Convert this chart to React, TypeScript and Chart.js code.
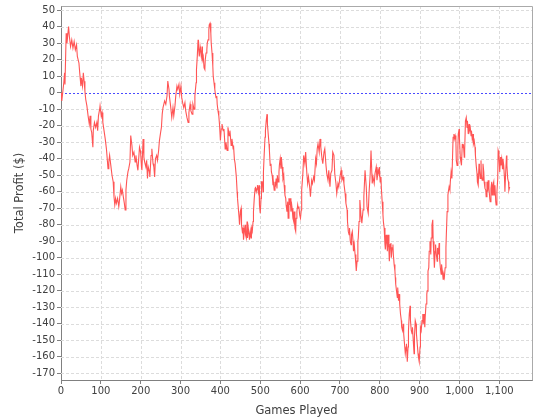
import React, { useEffect, useRef } from 'react';
import { Chart, registerables } from 'chart.js';

Chart.register(...registerables);

const xAxisTitle = 'Games Played';
const yAxisTitle = 'Total Profit ($)';

const xTickValues = [0, 100, 200, 300, 400, 500, 600, 700, 800, 900, 1000, 1100];
const yTickValues = [50, 40, 30, 20, 10, 0, -10, -20, -30, -40, -50, -60, -70, -80, -90, -100, -110, -120, -130, -140, -150, -160, -170];

const games = [
  0, 2, 7, 9, 10, 13, 15, 19, 21, 24, 27, 30, 33, 36, 39, 41, 45, 47, 50, 51, 54, 56, 58, 60, 62, 65, 68, 71, 73, 75, 77, 80, 81, 84, 87, 90, 92, 94, 97, 98,
  101, 103, 105, 108, 111, 114, 116, 118, 120, 122, 125, 128, 131, 133, 135, 137, 139, 142, 145, 146, 150, 152, 154, 157, 159, 161, 163, 165, 168, 170, 173, 175, 178, 180, 183, 186, 188, 191, 193, 197, 199,
  200, 202, 203, 206, 208, 210, 213, 215, 217, 219, 222, 223, 226, 228, 231, 233, 235, 237, 240, 242, 245, 247, 250, 252, 254, 256, 260, 263, 266, 268, 271, 272, 275, 278, 281, 283, 286, 288, 291, 293, 296, 298,
  301, 303, 306, 308, 311, 313, 316, 319, 321, 324, 326, 329, 331, 334, 336, 339, 340, 342, 344, 345, 347, 349, 350, 352, 354, 355, 357, 359, 361, 362, 364, 366, 367, 369, 371, 372, 374, 376, 377, 379, 381, 382, 384, 386, 387, 389, 391, 392, 394, 396, 398,
  400, 402, 404, 407, 409, 412, 414, 417, 419, 422, 424, 427, 429, 432, 433, 435, 437, 440, 442, 443, 445, 447, 448, 450, 452, 453, 455, 457, 458, 460, 462, 463, 465, 467, 468, 470, 472, 473, 475, 477, 478, 480, 482, 483, 485, 487, 488, 490, 492, 493, 495, 497, 498,
  500, 502, 503, 505, 507, 508, 510, 512, 513, 515, 517, 518, 520, 522, 523, 525, 527, 528, 530, 532, 533, 535, 537, 538, 540, 542, 543, 545, 547, 548, 550, 552, 553, 555, 557, 559, 560, 562, 564, 565, 567, 569, 570, 572, 574, 575, 577, 579, 580, 582, 584, 585, 587, 589, 590, 592, 594, 595, 597, 599,
  601, 603, 604, 607, 609, 612, 614, 617, 619, 621, 624, 626, 629, 631, 634, 636, 639, 641, 643, 645, 648, 650, 652, 655, 657, 660, 662, 665, 667, 670, 672, 675, 677, 680, 682, 685, 687, 690, 692, 695, 697,
  700, 703, 705, 708, 710, 713, 715, 718, 719, 721, 723, 724, 726, 728, 729, 731, 733, 734, 736, 738, 740, 741, 743, 745, 746, 748, 750, 753, 755, 758, 760, 763, 766, 768, 771, 773, 776, 778, 781, 783, 786, 788, 791, 793, 796, 798, 799,
  801, 803, 804, 806, 808, 809, 811, 813, 814, 816, 818, 819, 821, 823, 824, 826, 828, 829, 831, 833, 834, 836, 838, 839, 840, 842, 844, 845, 847, 849, 850, 852, 854, 855, 857, 859, 860, 862, 864, 866, 867, 869, 871, 872, 874, 876, 877, 879, 881, 882, 884, 886, 887, 889, 891, 892, 894, 896, 897, 899,
  901, 902, 904, 906, 908, 909, 911, 913, 914, 916, 918, 919, 921, 923, 924, 926, 928, 929, 931, 933, 934, 936, 937, 939, 940, 942, 944, 945, 947, 949, 950, 952, 954, 955, 957, 959, 960, 962, 964, 966, 967, 969, 971, 972, 974, 976, 977, 979, 981, 982, 984, 986, 987, 989, 991, 992, 994, 996, 997, 999,
  1000, 1002, 1003, 1005, 1007, 1008, 1010, 1012, 1013, 1015, 1017, 1019, 1020, 1022, 1024, 1025, 1027, 1029, 1030, 1032, 1034, 1035, 1037, 1039, 1040, 1042, 1044, 1045, 1047, 1049, 1050, 1052, 1054, 1055, 1057, 1059, 1061, 1062, 1064, 1066, 1067, 1069, 1071, 1072, 1074, 1076, 1077, 1079, 1081, 1082, 1084, 1086, 1087, 1089, 1091, 1092, 1094, 1096, 1097, 1099,
  1101, 1103, 1104, 1106, 1108, 1109, 1111, 1113, 1114, 1116, 1118, 1119, 1121, 1123, 1124, 1126,
];

const profit = [
  0, -5, 6, 12, 5, 36, 30, 40, 34, 28, 32, 27, 31, 26, 29, 22, 18, 12, 4, 9, 4, 12, 7, 1, -4, -8, -14, -19, -14, -22, -24, -33, -23, -18, -21, -18, -23, -14, -10, -8,
  -14, -12, -18, -23, -28, -34, -40, -46, -42, -38, -44, -50, -54, -63, -68, -64, -67, -64, -69, -67, -57, -61, -59, -64, -67, -71, -59, -53, -48, -46, -42, -26, -32, -38, -36, -42, -38, -44, -47, -33, -35,
  -37, -45, -47, -28, -39, -42, -45, -41, -52, -45, -48, -51, -38, -34, -43, -45, -51, -40, -38, -41, -35, -29, -24, -21, -13, -9, -5, -7, -2, 7, 2, -2, -8, -15, -9, -14, -8, -2, 4, 2, 5, -1,
  4, -3, -7, -9, -6, -11, -15, -18, -12, -7, -11, -13, -7, -10, -2, 6, 14, 22, 32, 28, 22, 28, 26, 22, 28, 20, 22, 15, 14, 20, 24, 26, 30, 32, 38, 41, 42, 36, 30, 24, 16, 10, 6, 2, 0, -3, -2, -7, -11, -14, -20,
  -29, -22, -19, -23, -22, -34, -30, -35, -21, -26, -23, -32, -28, -34, -32, -40, -43, -51, -60, -64, -70, -76, -80, -72, -70, -80, -84, -82, -89, -84, -80, -86, -88, -78, -88, -82, -86, -89, -84, -88, -82, -84, -78, -72, -64, -58, -57, -60, -58, -56, -60, -56, -68,
  -73, -64, -54, -54, -60, -48, -37, -27, -23, -17, -13, -19, -25, -31, -35, -44, -43, -48, -50, -56, -54, -59, -54, -57, -52, -58, -50, -54, -48, -44, -40, -46, -39, -45, -52, -50, -56, -62, -64, -68, -72, -66, -76, -64, -68, -64, -72, -68, -70, -76, -78, -72, -82, -84, -76, -72, -68, -70, -69, -74,
  -76, -71, -59, -49, -38, -43, -36, -49, -55, -51, -57, -63, -53, -55, -51, -53, -40, -43, -34, -31, -36, -28, -33, -40, -43, -36, -34, -44, -49, -53, -47, -57, -49, -47, -36, -38, -49, -55, -61, -55, -57,
  -51, -47, -53, -51, -55, -61, -67, -71, -78, -84, -86, -82, -90, -92, -86, -84, -90, -96, -92, -98, -104, -108, -102, -90, -88, -78, -65, -75, -79, -71, -63, -47, -57, -69, -73, -61, -49, -35, -55, -51, -55, -49, -45, -53, -47, -49, -45,
  -54, -51, -58, -66, -74, -78, -82, -92, -95, -86, -92, -96, -86, -96, -102, -92, -91, -100, -94, -92, -98, -104, -108, -112, -116, -120, -124, -118, -126, -122, -128, -134, -138, -142, -144, -140, -146, -152, -158, -154, -152, -163, -154, -144, -134, -129, -138, -144, -146, -142, -150, -158, -148, -138, -140, -146, -152, -158, -160, -163,
  -154, -142, -144, -138, -134, -140, -134, -142, -136, -128, -122, -120, -108, -106, -96, -90, -98, -88, -80, -77, -90, -100, -106, -96, -92, -98, -102, -94, -98, -91, -100, -106, -110, -104, -108, -113, -110, -112, -106, -94, -86, -72, -62, -60, -57, -59, -54, -48, -52, -44, -27, -25, -28, -26, -29, -41, -44, -33, -25, -22,
  -28, -39, -41, -44, -31, -33, -32, -39, -35, -17, -15, -21, -17, -25, -19, -23, -21, -26, -23, -28, -25, -31, -29, -33, -38, -44, -49, -54, -56, -43, -46, -52, -41, -50, -53, -43, -48, -54, -58, -59, -63, -54, -60, -53, -58, -64, -66, -58, -54, -62, -56, -54, -62, -56, -66, -68, -60, -52, -35, -37,
  -48, -39, -44, -40, -46, -40, -44, -52, -60, -48, -38, -44, -52, -54, -59, -57,
];

const X_MIN = 0;
const X_MAX = 1182;
const Y_MIN = -174;
const Y_MAX = 52.5;

export default function App() {
  const canvasRef = useRef<HTMLCanvasElement | null>(null);

  useEffect(() => {
    document.body.style.margin = '0';
    const canvas = canvasRef.current;
    if (!canvas) return;

    const plotDecor = {
      id: 'plotDecor',
      beforeDatasetsDraw(chart: any) {
        const { ctx, chartArea: a, scales } = chart;
        const x = scales.x;
        const y = scales.y;
        ctx.save();
        ctx.lineWidth = 1;
        ctx.setLineDash([3, 2]);
        ctx.strokeStyle = '#dcdcdc';
        ctx.beginPath();
        for (const v of xTickValues) {
          if (v === 0) continue;
          const px = Math.round(x.getPixelForValue(v)) + 0.5;
          ctx.moveTo(px, a.top);
          ctx.lineTo(px, a.bottom);
        }
        for (const v of yTickValues) {
          if (v === 0) continue;
          const py = Math.round(y.getPixelForValue(v)) + 0.5;
          ctx.moveTo(a.left, py);
          ctx.lineTo(a.right, py);
        }
        ctx.stroke();
        ctx.setLineDash([2, 2]);
        ctx.strokeStyle = '#4a4aff';
        ctx.beginPath();
        const pz = Math.round(y.getPixelForValue(0)) + 0.5;
        ctx.moveTo(a.left, pz);
        ctx.lineTo(a.right, pz);
        ctx.stroke();
        ctx.restore();
      },
      afterDraw(chart: any) {
        const { ctx, chartArea: a } = chart;
        ctx.save();
        ctx.lineWidth = 1;
        ctx.strokeStyle = '#aaaaaa';
        ctx.beginPath();
        const l = Math.round(a.left) + 0.5;
        const t = Math.round(a.top) + 0.5;
        const r = Math.round(a.right) + 0.5;
        const b = Math.round(a.bottom) + 0.5;
        ctx.moveTo(l, t);
        ctx.lineTo(r, t);
        ctx.lineTo(r, b);
        ctx.stroke();
        ctx.restore();
      },
    };

    const chart = new Chart(canvas, {
      type: 'line',
      data: {
        datasets: [
          {
            data: games.map((g, i) => ({ x: g, y: profit[i] })),
            borderColor: '#ff5555',
            borderWidth: 1.1,
            pointRadius: 0,
            tension: 0,
            fill: false,
          },
        ],
      },
      options: {
        animation: false,
        responsive: false,
        devicePixelRatio: 1,
        layout: { padding: { left: 0, right: 8, top: 6, bottom: 0 } },
        plugins: { legend: { display: false }, tooltip: { enabled: false } },
        scales: {
          x: {
            type: 'linear',
            min: X_MIN,
            max: X_MAX,
            afterBuildTicks: (s: any) => {
              s.ticks = xTickValues.map((v) => ({ value: v }));
            },
            afterFit: (s: any) => {
              s.height = 40;
              s.paddingLeft = 0;
              s.paddingRight = 0;
            },
            grid: { drawOnChartArea: false, drawTicks: true, tickLength: 4, tickColor: '#808080' },
            border: { display: true, color: '#808080', width: 1 },
            ticks: {
              autoSkip: false,
              maxRotation: 0,
              padding: 1,
              color: '#404040',
              font: { family: 'DejaVu Sans', size: 10 },
              callback: (v: any) => Number(v).toLocaleString('en-US'),
            },
            title: {
              display: true,
              text: xAxisTitle,
              color: '#404040',
              font: { family: 'DejaVu Sans', size: 11.5 },
              padding: { top: 0, bottom: 2 },
            },
          },
          y: {
            type: 'linear',
            min: Y_MIN,
            max: Y_MAX,
            afterBuildTicks: (s: any) => {
              s.ticks = yTickValues.map((v) => ({ value: v }));
            },
            afterFit: (s: any) => {
              s.width = 61;
              s.paddingTop = 0;
              s.paddingBottom = 0;
            },
            grid: { drawOnChartArea: false, drawTicks: true, tickLength: 4, tickColor: '#808080' },
            border: { display: true, color: '#808080', width: 1 },
            ticks: {
              autoSkip: false,
              padding: 2,
              color: '#404040',
              font: { family: 'DejaVu Sans', size: 10 },
              callback: (v: any) => String(v),
            },
            title: {
              display: true,
              text: yAxisTitle,
              color: '#404040',
              font: { family: 'DejaVu Sans', size: 11.5 },
              padding: { top: 13, bottom: 0 },
            },
          },
        },
      },
      plugins: [plotDecor],
    } as any);

    return () => {
      chart.destroy();
    };
  }, []);

  return (
    <div style={{ position: 'absolute', left: 0, top: 0, width: 540, height: 420, background: '#ffffff' }}>
      <canvas ref={canvasRef} width={540} height={420} style={{ width: 540, height: 420, display: 'block' }} />
    </div>
  );
}
